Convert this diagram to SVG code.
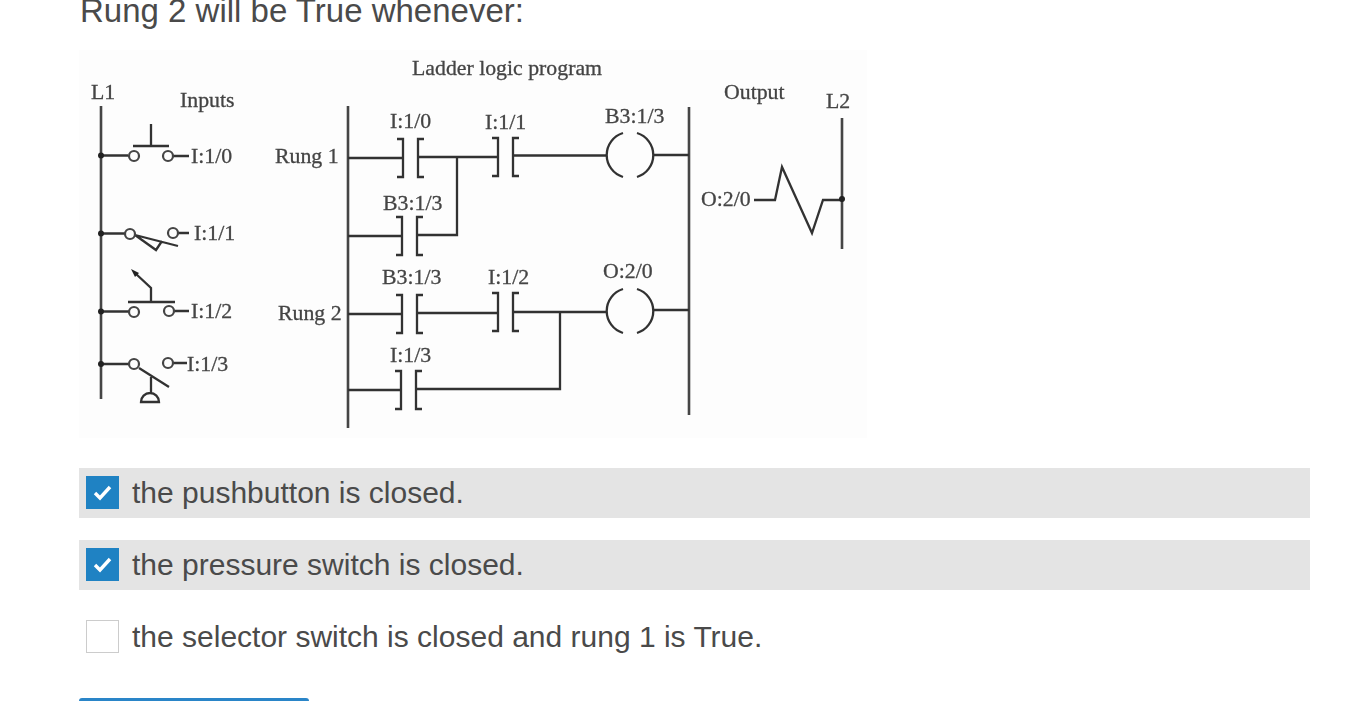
<svg xmlns="http://www.w3.org/2000/svg" width="1363" height="701" viewBox="0 0 1363 701">
<style>
.w{fill:none;stroke:#333;stroke-width:2.3}
.r{fill:none;stroke:#444;stroke-width:2.6}
.t{font-family:"Liberation Serif",serif;font-size:21.800px;fill:#444;stroke:#444;stroke-width:.3}
.o{font-family:"Liberation Sans",Arial,sans-serif;font-size:30px;fill:#4a4a4a}
.h{font-family:"Liberation Sans",Arial,sans-serif;font-size:33px;fill:#4a4a4a}
.c{fill:none;stroke:#444;stroke-width:2.200}
.k{fill:none;stroke:#fff;stroke-width:3.4}
</style>
<defs>
<filter id="soft" x="0" y="0" width="100%" height="100%"><feGaussianBlur stdDeviation="0.5"/></filter>
<g id="contact"><path class="w" d="M-6-19H0V19H-6M21-19H15V19H21"/></g>
<g id="coil"><path class="w" d="M-7-22A23 23 0 0 0-7 22M7-22A23 23 0 0 1 7 22"/></g>
</defs>
<rect width="1363" height="701" fill="#fff"/>
<text class="h" x="80" y="22">Rung 2 will be True whenever:</text>
<g id="figure" filter="url(#soft)">
<rect x="79" y="50" width="788" height="388" fill="#fdfdfd"/>
<g id="rails">
<path class="r" d="M101 106V399M348 106V428M689 107V415M842 118V249"/>
</g>
<g id="connectors">
<path class="w" d="M348 158H403M417 157H497M513 155.500H607M457 157V235H417M348 236H402"/>
<path class="w" d="M348 314H402M417 313H498M513 312H607M560 312V389H415M348 390H401"/>
<path class="w" d="M653 155H689M653 310H689"/>
</g>
<g id="input-0">
<path class="w" d="M101 155.500H128M173 156H189M133 146H169M151 124V146"/>
<circle class="c" cx="134" cy="156" r="5"/><circle class="c" cx="168" cy="156" r="5"/>
<circle cx="101" cy="155.500" r="3" fill="#222"/>
<text class="t" x="191" y="163">I:1/0</text>
</g>
<g id="input-1">
<path class="w" d="M101 233.500H125M178 233H189M135 235L178 246M135 235L156 250L162 241"/>
<circle class="c" cx="130" cy="234" r="5"/><circle class="c" cx="173" cy="233" r="5"/>
<circle cx="101" cy="233.500" r="3" fill="#222"/>
<text class="t" x="194" y="240">I:1/1</text>
</g>
<g id="input-2">
<path class="w" d="M101 311.500H129M174 311H189M128 302H175M151 302V288L135 273"/>
<path d="M131 269L139 273L135 277Z" fill="#222"/>
<circle class="c" cx="134" cy="312" r="5"/><circle class="c" cx="169" cy="311" r="5"/>
<circle cx="101" cy="311.500" r="3" fill="#222"/>
<text class="t" x="191" y="318">I:1/2</text>
</g>
<g id="input-3">
<path class="w" d="M101 364H129M173 363H187M139 368L169 387M151 377V393M141 402H159A9 9 0 0 0 141 402Z"/>
<circle class="c" cx="134" cy="364" r="5"/><circle class="c" cx="168" cy="363" r="5"/>
<circle cx="101" cy="364" r="3" fill="#222"/>
<text class="t" x="187" y="371">I:1/3</text>
</g>
<g id="labels">
<text class="t" x="180" y="107">Inputs</text>
<text class="t" x="91" y="99">L1</text>
<text class="t" x="412" y="75">Ladder logic program</text>
<text class="t" x="724" y="99">Output</text>
<text class="t" x="826" y="108">L2</text>
<text class="t" x="275" y="163">Rung 1</text>
<text class="t" x="278" y="320">Rung 2</text>
</g>
<g id="contact-1"><use href="#contact" x="403" y="158"/><text class="t" x="390" y="128">I:1/0</text></g>
<g id="contact-2"><use href="#contact" x="498" y="157"/><text class="t" x="485" y="129">I:1/1</text></g>
<g id="contact-3"><use href="#contact" x="402" y="236"/><text class="t" x="383" y="210">B3:1/3</text></g>
<g id="contact-4"><use href="#contact" x="402" y="314"/><text class="t" x="382" y="284">B3:1/3</text></g>
<g id="contact-5"><use href="#contact" x="498" y="312"/><text class="t" x="488" y="284">I:1/2</text></g>
<g id="contact-6"><use href="#contact" x="401" y="390"/><text class="t" x="390" y="362">I:1/3</text></g>
<g id="coil-1"><use href="#coil" x="630" y="155"/><text class="t" x="605" y="123">B3:1/3</text></g>
<g id="coil-2"><use href="#coil" x="630" y="311"/><text class="t" x="603" y="278">O:2/0</text></g>
<g id="output">
<text class="t" x="701" y="206">O:2/0</text>
<path class="w" d="M754 200H775L782 167L812 233L823 200H842"/>
<circle cx="842" cy="199" r="3" fill="#222"/>
</g>
</g>
<g id="opt-1">
<rect x="79" y="468" width="1231" height="50" fill="#e4e4e4"/>
<rect x="86" y="476" width="33" height="33" fill="#1f82c3"/>
<path class="k" d="M95 493L100 498L110 487"/>
<text class="o" x="132" y="503">the pushbutton is closed.</text>
</g>
<g id="opt-2">
<rect x="79" y="540" width="1231" height="50" fill="#e4e4e4"/>
<rect x="86" y="548" width="33" height="33" fill="#1f82c3"/>
<path class="k" d="M95 565L100 570L110 559"/>
<text class="o" x="132" y="575">the pressure switch is closed.</text>
</g>
<g id="opt-3">
<rect x="86.500" y="620.500" width="32" height="32" fill="#fff" stroke="#ccc"/>
<text class="o" x="132" y="647">the selector switch is closed and rung 1 is True.</text>
</g>
<rect id="button" x="79" y="698" width="230" height="8" rx="3" fill="#2a85c8"/>
</svg>
